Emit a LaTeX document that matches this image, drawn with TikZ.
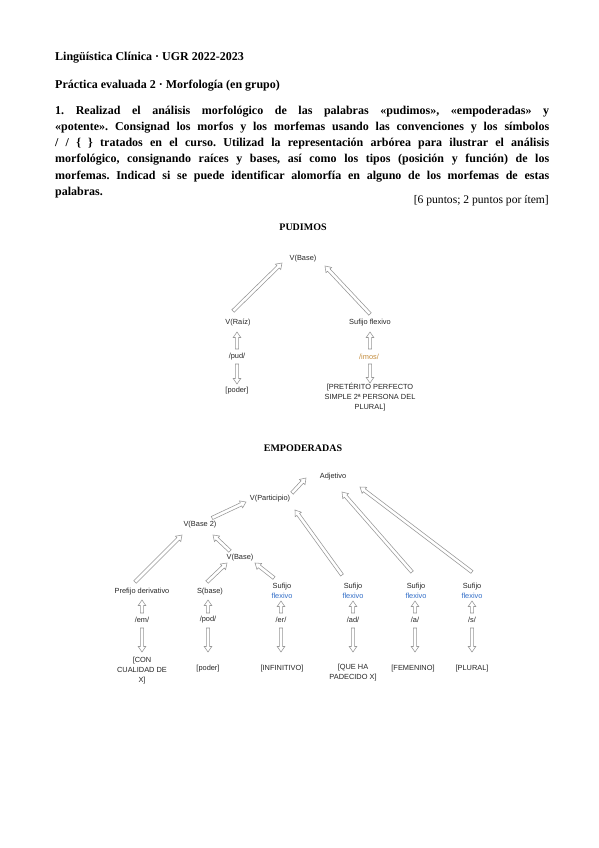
\documentclass[tikz,border=0pt]{standalone}
\usepackage{fontspec}
\setmainfont{Liberation Serif}
\newfontfamily\treefont{Liberation Sans}
\usetikzlibrary{calc}
\frenchspacing
\definecolor{arrowgray}{RGB}{150,150,150}
\definecolor{flexblue}{RGB}{50,110,200}
\definecolor{imosorange}{RGB}{195,140,60}
\tikzset{
  lbl/.style={font=\treefont\fontsize{7.4}{10}\selectfont, inner sep=0pt, align=center, text=black!85},
  hdr/.style={font=\bfseries\fontsize{12}{14}\selectfont, inner sep=0pt, anchor=base west},
  ttl/.style={font=\bfseries\fontsize{10}{12}\selectfont, inner sep=0pt},
  blk/.style={draw=arrowgray, fill=white, line width=0.55pt, line join=miter},
}
\newcommand\barrow[2]{%
  \draw[blk] ($(#1)!1.7pt!90:(#2)$) -- ($(#2)!5.5pt!(#1)!1.7pt!90:(#2)$) -- ($(#2)!5.5pt!(#1)!3.8pt!90:(#2)$) -- (#2) -- ($(#2)!5.5pt!(#1)!3.8pt!-90:(#2)$) -- ($(#2)!5.5pt!(#1)!1.7pt!-90:(#2)$) -- ($(#1)!1.7pt!-90:(#2)$) -- cycle;%
}
\begin{document}
\begin{tikzpicture}[x=1pt,y=-1pt]
\fill[white] (0,0) rectangle (599,848);
\useasboundingbox (0,0) rectangle (599,848);
% header
\node[hdr] (h1) at (55,61) {Lingüística Clínica · UGR 2022-2023};
\node[hdr] (h2) at (55,89) {Práctica evaluada 2 · Morfología (en grupo)};
\node[hdr] (p1) at (55,114) {\makebox[494pt][s]{1. Realizad el análisis morfológico de las palabras «pudimos», «empoderadas» y}};
\node[hdr] (p2) at (55,130.3) {\makebox[494pt][s]{«potente». Consignad los morfos y los morfemas usando las convenciones y los símbolos}};
\node[hdr] (p3) at (55,146.6) {\makebox[494pt][s]{/ / \{ \} tratados en el curso. Utilizad la representación arbórea para ilustrar el análisis}};
\node[hdr] (p4) at (55,162.9) {\makebox[494pt][s]{morfológico, consignando raíces y bases, así como los tipos (posición y función) de los}};
\node[hdr] (p5) at (55,179.2) {\makebox[494pt][s]{morfemas. Indicad si se puede identificar alomorfía en alguno de los morfemas de estas}};
\node[hdr] (p6) at (55,195.5) {palabras.};
\node[anchor=base east, font=\fontsize{11.6}{13}\selectfont, inner sep=0pt] (pts) at (549,203) {[6 puntos; 2 puntos por ítem]};

% PUDIMOS
\node[ttl] (t1) at (303,227) {PUDIMOS};
\node[lbl] (base) at (303,259) {V(Base)};
\node[lbl] (raiz) at (238,323) {V(Raíz)};
\node[lbl] (suf) at (370,323) {Sufijo flexivo};
\node[lbl] (pud) at (237,357) {/pud/};
\node[lbl, text=imosorange] (imos) at (369,357) {/imos/};
\node[lbl] (poder) at (237,391) {[poder]};
\node[lbl] (pret) at (370,397) {[PRETÉRITO PERFECTO\\SIMPLE 2ª PERSONA DEL\\PLURAL]};

\coordinate (a1s) at ($(raiz)+(-5,-12)$); \coordinate (a1e) at ($(base)+(-21,4)$);
\coordinate (a2s) at ($(suf)+(0,-9)$);    \coordinate (a2e) at ($(base)+(22,7)$);
\coordinate (a3s) at ($(pud)+(0,-8)$);    \coordinate (a3e) at ($(raiz)+(-1,9)$);
\coordinate (a4s) at ($(pud)+(0,7)$);     \coordinate (a4e) at ($(poder)+(0,-7)$);
\coordinate (a5s) at ($(imos)+(1,-8)$);   \coordinate (a5e) at ($(suf)+(0,9)$);
\coordinate (a6s) at ($(imos)+(1,7)$);    \coordinate (a6e) at ($(pret)+(0,-14)$);
\barrow{a1s}{a1e}
\barrow{a2s}{a2e}
\barrow{a3s}{a3e}
\barrow{a4s}{a4e}
\barrow{a5s}{a5e}
\barrow{a6s}{a6e}

% EMPODERADAS
\node[ttl] (t2) at (303,448) {EMPODERADAS};
\node[lbl] (adj) at (333,477) {Adjetivo};
\node[lbl] (part) at (270,499) {V(Participio)};
\node[lbl] (base2) at (200,525) {V(Base 2)};
\node[lbl] (vbase) at (240,558) {V(Base)};
\node[lbl] (pref) at (142,592) {Prefijo derivativo};
\node[lbl] (sbase) at (210,592) {S(base)};
\node[lbl] (suf1) at (282,591) {Sufijo\\\textcolor{flexblue}{flexivo}};
\node[lbl] (suf2) at (353,591) {Sufijo\\\textcolor{flexblue}{flexivo}};
\node[lbl] (suf3) at (416,591) {Sufijo\\\textcolor{flexblue}{flexivo}};
\node[lbl] (suf4) at (472,591) {Sufijo\\\textcolor{flexblue}{flexivo}};
\node[lbl] (em) at (142,620) {/em/};
\node[lbl] (pod) at (208,620) {/pod/};
\node[lbl] (er) at (281,620) {/er/};
\node[lbl] (ad) at (353,620) {/ad/};
\node[lbl] (ma) at (415,620) {/a/};
\node[lbl] (ms) at (472,620) {/s/};
\node[lbl] (con) at (142,671) {[CON\\CUALIDAD DE\\X]};
\node[lbl] (poder2) at (208,669) {[poder]};
\node[lbl] (inf) at (282,669) {[INFINITIVO]};
\node[lbl] (que) at (353,673) {[QUE HA\\PADECIDO X]};
\node[lbl] (fem) at (413,669) {[FEMENINO]};
\node[lbl] (plu) at (472,669) {[PLURAL]};

\coordinate (b7s) at ($(part)+(22,-6)$);   \coordinate (b7e) at ($(adj)+(-27,1)$);
\coordinate (b8s) at ($(base2)+(12,-7)$);  \coordinate (b8e) at ($(part)+(-24,3)$);
\coordinate (b9s) at ($(pref)+(-7,-10)$);  \coordinate (b9e) at ($(base2)+(-18,10)$);
\coordinate (b10s) at ($(vbase)+(-10,-7)$); \coordinate (b10e) at ($(base2)+(13,10)$);
\coordinate (b11s) at ($(sbase)+(-3,-10)$); \coordinate (b11e) at ($(vbase)+(-13,5)$);
\coordinate (b12s) at ($(suf1)+(-8,-13)$);  \coordinate (b12e) at ($(vbase)+(15,5)$);
\coordinate (b13s) at ($(suf2)+(-11,-16)$); \coordinate (b13e) at ($(part)+(25,11)$);
\coordinate (b14s) at ($(suf3)+(-4,-19)$);  \coordinate (b14e) at ($(adj)+(9,15)$);
\coordinate (b15s) at ($(suf4)+(0,-19)$);   \coordinate (b15e) at ($(adj)+(27,10)$);
\barrow{b7s}{b7e}
\barrow{b8s}{b8e}
\barrow{b9s}{b9e}
\barrow{b10s}{b10e}
\barrow{b11s}{b11e}
\barrow{b12s}{b12e}
\barrow{b13s}{b13e}
\barrow{b14s}{b14e}
\barrow{b15s}{b15e}

% up arrows (morph -> label)
\coordinate (u1s) at ($(em)+(0,-7)$);  \coordinate (u1e) at ($(pref)+(0,8)$);
\coordinate (u2s) at ($(pod)+(0,-7)$); \coordinate (u2e) at ($(sbase)+(-2,8)$);
\coordinate (u3s) at ($(er)+(0,-7)$);  \coordinate (u3e) at ($(suf1)+(-1,10)$);
\coordinate (u4s) at ($(ad)+(0,-7)$);  \coordinate (u4e) at ($(suf2)+(0,10)$);
\coordinate (u5s) at ($(ma)+(0,-7)$);  \coordinate (u5e) at ($(suf3)+(-1,10)$);
\coordinate (u6s) at ($(ms)+(0,-7)$);  \coordinate (u6e) at ($(suf4)+(0,10)$);
\barrow{u1s}{u1e}
\barrow{u2s}{u2e}
\barrow{u3s}{u3e}
\barrow{u4s}{u4e}
\barrow{u5s}{u5e}
\barrow{u6s}{u6e}
% down arrows (morph -> meaning)
\coordinate (d1s) at ($(em)+(0,8)$);  \coordinate (d1e) at ($(con)+(0,-19)$);
\coordinate (d2s) at ($(pod)+(0,8)$); \coordinate (d2e) at ($(poder2)+(0,-17)$);
\coordinate (d3s) at ($(er)+(0,8)$);  \coordinate (d3e) at ($(inf)+(-1,-17)$);
\coordinate (d4s) at ($(ad)+(0,8)$);  \coordinate (d4e) at ($(que)+(0,-21)$);
\coordinate (d5s) at ($(ma)+(0,8)$);  \coordinate (d5e) at ($(fem)+(2,-17)$);
\coordinate (d6s) at ($(ms)+(0,8)$);  \coordinate (d6e) at ($(plu)+(0,-17)$);
\barrow{d1s}{d1e}
\barrow{d2s}{d2e}
\barrow{d3s}{d3e}
\barrow{d4s}{d4e}
\barrow{d5s}{d5e}
\barrow{d6s}{d6e}
\end{tikzpicture}
\end{document}
